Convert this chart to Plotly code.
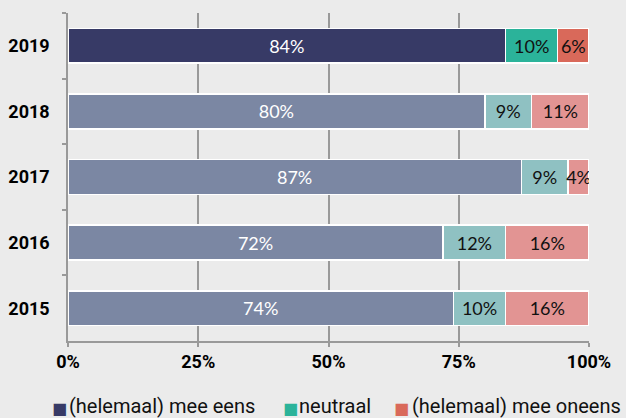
import plotly.graph_objects as go

years = ["2019", "2018", "2017", "2016", "2015"]
eens = [84, 80, 87, 72, 74]
neutraal = [10, 9, 9, 12, 10]
oneens = [6, 11, 4, 16, 16]

names = ["(helemaal) mee eens", "neutraal", "(helemaal) mee oneens"]
dark_colors = ["#373a66", "#2bb39a", "#d9695a"]
light_colors = ["#7b87a3", "#8fc1c2", "#e29493"]
text_colors = ["white", "#111111", "#111111"]

fig = go.Figure()
for i, (name, vals) in enumerate(zip(names, [eens, neutraal, oneens])):
    colors = [dark_colors[i] if y == "2019" else light_colors[i] for y in years]
    fig.add_trace(go.Bar(
        y=years, x=vals, name=name, orientation="h",
        marker=dict(color=colors, line=dict(color="white", width=1.5)),
        text=[f"{v}%" for v in vals], textposition="inside", textangle=0,
        insidetextanchor="middle", constraintext="none",
        textfont=dict(family="Lato", size=18, color=text_colors[i]),
        hoverinfo="skip", showlegend=False,
    ))

W, H = 626, 418
ML, MR, MT, MB = 68, 37, 13, 77
pw = W - ML - MR
ph = H - MT - MB

def px_to_paper_x(x):
    return (x - ML) / pw

def px_to_paper_y(y):
    return (H - MB - y) / ph

# legend built from the series names and colours
legend_items = [(50, 67), (281, 297), (392, 410)]
for (sq_x, tx_x), name, col in zip(legend_items, names, dark_colors):
    fig.add_annotation(
        x=px_to_paper_x(sq_x), y=px_to_paper_y(408), xref="paper", yref="paper",
        text="■", showarrow=False, xanchor="left", yanchor="middle",
        font=dict(family="DejaVu Sans", size=16, color=col),
    )
    fig.add_annotation(
        x=px_to_paper_x(tx_x), y=px_to_paper_y(406), xref="paper", yref="paper",
        text=name, showarrow=False, xanchor="left", yanchor="middle",
        font=dict(family="Roboto", size=20, color="#111111"),
    )

fig.update_layout(
    barmode="stack", bargap=0.47,
    width=W, height=H,
    margin=dict(l=ML, r=MR, t=MT, b=MB, autoexpand=False),
    paper_bgcolor="#ebebeb", plot_bgcolor="#ebebeb",
    font=dict(family="Roboto", color="black"),
    showlegend=False,
)
fig.update_xaxes(
    range=[0, 100], tickvals=[0, 25, 50, 75, 100],
    ticktext=["0%", "25%", "50%", "75%", "100%"],
    showgrid=True, gridcolor="#999999", gridwidth=1.5,
    showline=True, linecolor="#999999", linewidth=1.5,
    ticks="outside", ticklen=4, tickcolor="#999999", tickwidth=1.5,
    tickfont=dict(family="Roboto", size=18, color="black", weight="bold"),
    zeroline=False, automargin=False,
)
fig.update_yaxes(
    categoryorder="array", categoryarray=years, autorange="reversed",
    showline=True, linecolor="#999999", linewidth=1.5,
    ticks="outside", ticklen=4, tickcolor="#999999", tickwidth=1.5,
    tickson="boundaries", showgrid=False,
    tickfont=dict(family="Roboto", size=18, color="black", weight="bold"),
    ticklabelstandoff=13, automargin=False,
)
fig.write_html(
    "out.html",
    config={"displayModeBar": False},
    post_script="document.body.style.margin='0';document.body.style.background='#ebebeb';",
)
